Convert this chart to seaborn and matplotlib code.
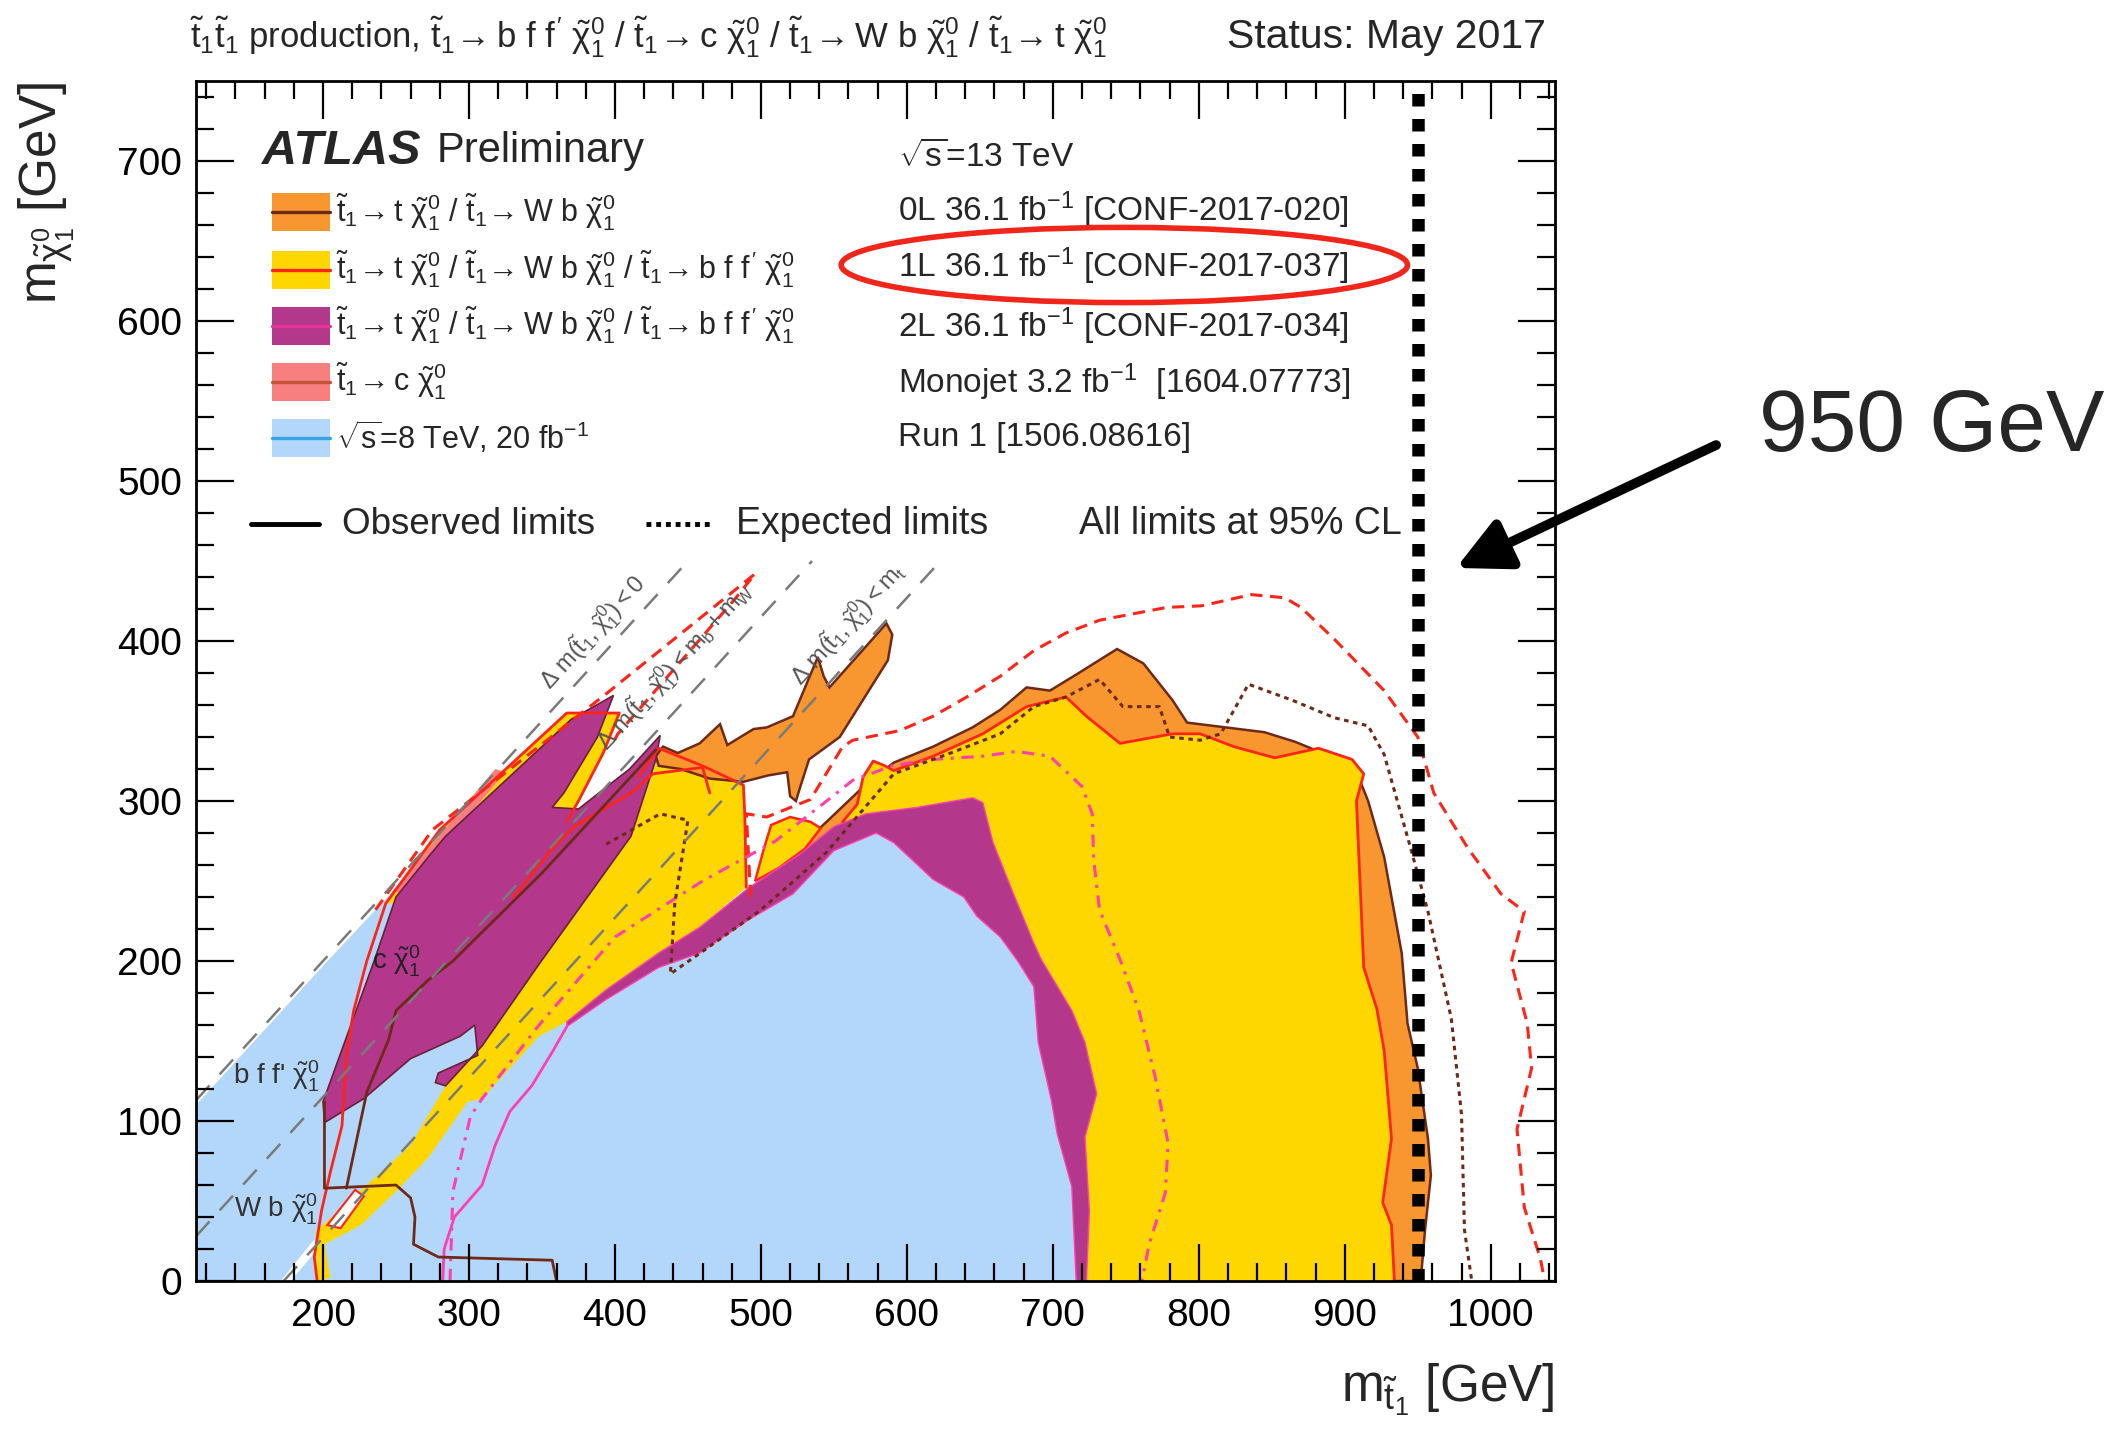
import numpy as np
import pandas as pd
import seaborn as sns
import matplotlib
matplotlib.use("Agg")
import matplotlib.pyplot as plt
from matplotlib.patches import Ellipse, Rectangle
from matplotlib.ticker import MultipleLocator

# ---------------- data (m_stop, m_chi) in GeV ----------------
# Run 1 (8 TeV) region, visible outline
run1_x = [113, 113, 200, 272, 310, 355, 360, 367, 394, 430, 458, 492, 522, 550, 579, 591, 618, 639, 648, 664, 676, 687, 690, 699, 703, 713, 716]
run1_y = [0, 110, 197, 267, 285, 215, 175, 159, 176, 196, 205, 226, 242, 269, 280, 274, 251, 240, 228, 215, 200, 184, 149, 113, 92, 59, 0]

# 0L big region
zl_x = [500, 545, 568, 591, 618, 645, 664, 682, 698, 716, 744, 762, 782, 792, 845, 866, 882, 909, 916, 927, 939, 943, 950, 957, 959, 955, 952, 723, 700, 652, 607, 572, 550, 527, 500]
zl_y = [249, 287, 307, 324, 334, 346, 357, 371, 369, 379, 395, 386, 363, 349, 343, 337, 331, 316, 300, 265, 205, 161, 133, 89, 66, 32, 0, 0, 150, 292, 290, 287, 279, 262, 244]
# 0L spikes near the top-mass diagonal
zs_x = [428, 433, 443, 458, 472, 477, 495, 504, 522, 539, 543, 547, 586, 590, 587, 554, 533, 527, 524, 520, 518, 505, 488, 465, 445, 430]
zs_y = [328, 334, 330, 336, 348, 335, 345, 346, 353, 390, 378, 371, 411, 404, 388, 340, 326, 309, 300, 303, 318, 316, 312, 314, 320, 322]

# 1L regions
ola_x = [196, 195, 230, 260, 284, 309, 348, 411, 428, 430, 460, 488, 489, 490, 458, 430, 394, 367, 348, 309, 299, 272, 250, 226, 201, 205]
ola_y = [0, 31, 60, 85, 122, 147, 198, 278, 326, 333, 322, 310, 290, 246, 221, 205, 182, 162, 153, 114, 112, 77, 56, 35, 23, 2]
olb_x = [556, 566, 570, 577, 585, 591, 618, 652, 682, 709, 723, 746, 782, 801, 824, 852, 882, 905, 913, 908, 913, 922, 927, 932, 926, 932, 934,
         723, 725, 722, 730, 722, 713, 692, 687, 673, 659, 652, 645, 607, 572]
olb_y = [287, 298, 315, 325, 322, 319, 328, 342, 359, 365, 353, 336, 342, 342, 334, 327, 333, 326, 317, 300, 196, 170, 144, 89, 49, 35, 0,
         0, 44, 90, 117, 149, 169, 201, 211, 242, 274, 299, 302, 296, 292]
olc_x = [243, 280, 367, 403, 392, 375, 367, 356, 300, 255]
olc_y = [236, 282, 355, 355, 330, 300, 287, 293, 260, 236]
old_x = [496, 502, 507, 520, 534, 541, 530, 512]
old_y = [250, 270, 285, 290, 287, 283, 270, 258]

# 2L regions
tla_x = [201, 200, 235, 250, 273, 284, 370, 399, 388, 365, 357, 375, 410, 431, 428, 411, 348, 309, 284, 277, 279, 306, 304, 294, 260, 228]
tla_y = [99, 112, 200, 240, 266, 278, 351, 366, 340, 305, 296, 295, 320, 341, 326, 278, 198, 147, 122, 124, 130, 141, 160, 153, 139, 114]
tlb_x = [367, 394, 430, 458, 492, 522, 550, 579, 591, 618, 639, 648, 664, 676, 687, 690, 699, 703, 713, 716,
         723, 725, 722, 730, 722, 713, 692, 687, 673, 659, 652, 645, 607, 572, 550, 527, 492, 458, 430, 394, 367]
tlb_y = [159, 176, 196, 205, 226, 242, 269, 280, 274, 251, 240, 228, 215, 200, 184, 149, 113, 92, 59, 0,
         0, 44, 90, 117, 149, 169, 201, 211, 242, 274, 299, 302, 296, 292, 284, 267, 246, 221, 205, 182, 162]

# monojet (stop -> c chi) sliver
mj_x = [247, 318, 325, 255]
mj_y = [243, 320, 318, 243]

# white gaps
gap1_x = [171, 178, 198, 194]
gap1_y = [0, 0, 22, 26]
gap2_x = [203, 212, 228, 222]
gap2_y = [35, 33, 53, 57]

# observed / expected contour lines
obs1l_a_x = [556, 566, 570, 577, 585, 591, 618, 652, 682, 709, 723, 746, 782, 801, 824, 852, 882, 905, 913, 908, 913, 922, 927, 932, 926, 932, 934]
obs1l_a_y = [287, 298, 315, 325, 322, 319, 328, 342, 359, 365, 353, 336, 342, 342, 334, 327, 333, 326, 317, 300, 196, 170, 144, 89, 49, 35, 0]
obs1l_b_x = [416, 430, 460, 488, 489, 490]
obs1l_b_y = [315, 333, 322, 310, 290, 246]
obs1l_c_x = [196, 194, 199, 205, 213, 216, 221, 230, 243, 280, 367, 403, 392, 375, 367]
obs1l_c_y = [0, 15, 44, 68, 97, 141, 169, 200, 236, 282, 355, 355, 330, 300, 287]
obs1l_d_x = [330, 336, 355, 372, 411, 426, 460, 465]
obs1l_d_y = [240, 246, 268, 284, 305, 317, 321, 305]
exp1l_a_x = [493, 490, 504, 534, 556, 563, 595, 618, 641, 664, 687, 709, 732, 755, 778, 802, 836, 859, 870, 893, 927, 950, 961, 984, 1007, 1023, 1014, 1025, 1028, 1018, 1023, 1034, 1037]
exp1l_a_y = [240, 292, 290, 301, 334, 338, 344, 353, 365, 378, 394, 405, 413, 417, 421, 422, 429, 427, 421, 401, 369, 340, 305, 271, 242, 231, 199, 161, 133, 95, 46, 14, 0]
exp1l_b_x = [236, 275, 394, 496, 482, 402, 398]
exp1l_b_y = [232, 282, 367, 442, 426, 342, 335]

obs2l_x = [282, 283, 290, 309, 318, 328, 343, 357, 367]
obs2l_y = [0, 20, 40, 60, 85, 106, 122, 143, 159]
exp2l_x = [287, 289, 301, 309, 348, 400, 460, 510, 545, 563, 590, 618, 652, 675, 698, 720, 727, 728, 732, 746, 759, 770, 779, 777, 766, 761]
exp2l_y = [0, 56, 103, 114, 160, 215, 250, 275, 300, 313, 322, 326, 328, 331, 328, 309, 292, 263, 232, 201, 169, 128, 86, 55, 23, 0]

obs0l_a_x = [201, 201, 250, 260, 263, 262, 279, 357, 360]
obs0l_a_y = [112, 58, 60, 52, 40, 23, 15, 13, 0]
obs0l_b_x = [216, 230, 245, 250, 272, 289, 350, 428]
obs0l_b_y = [58, 118, 151, 169, 188, 200, 255, 332]
exp0l_x = [394, 431, 450, 441, 438, 460, 500, 545, 591, 630, 664, 687, 709, 732, 748, 773, 780, 801, 815, 834, 864, 893, 916, 927, 945, 957, 973, 980, 982, 987]
exp0l_y = [273, 292, 288, 236, 192, 206, 232, 268, 317, 330, 342, 359, 365, 376, 359, 359, 340, 338, 342, 373, 363, 352, 347, 329, 271, 231, 164, 104, 32, 0]

# kinematic boundaries: m_chi = m_stop - offset
kin_offsets = [0, 85, 173]
kin_top = 450

limit_line = 950

legend_labels = [
    r"$\tilde{t}_1\!\rightarrow t\ \tilde{\chi}^0_1$ / $\tilde{t}_1\!\rightarrow W\ b\ \tilde{\chi}^0_1$",
    r"$\tilde{t}_1\!\rightarrow t\ \tilde{\chi}^0_1$ / $\tilde{t}_1\!\rightarrow W\ b\ \tilde{\chi}^0_1$ / $\tilde{t}_1\!\rightarrow b\ f\ f'\ \tilde{\chi}^0_1$",
    r"$\tilde{t}_1\!\rightarrow t\ \tilde{\chi}^0_1$ / $\tilde{t}_1\!\rightarrow W\ b\ \tilde{\chi}^0_1$ / $\tilde{t}_1\!\rightarrow b\ f\ f'\ \tilde{\chi}^0_1$",
    r"$\tilde{t}_1\!\rightarrow c\ \tilde{\chi}^0_1$",
    r"$\sqrt{s}$=8 TeV, 20 fb$^{-1}$",
]
ref_labels = [
    r"$\sqrt{s}$=13 TeV",
    r"0L 36.1 fb$^{-1}$ [CONF-2017-020]",
    r"1L 36.1 fb$^{-1}$ [CONF-2017-037]",
    r"2L 36.1 fb$^{-1}$ [CONF-2017-034]",
    r"Monojet 3.2 fb$^{-1}$  [1604.07773]",
    r"Run 1 [1506.08616]",
]

# ---------------- style ----------------
sns.set_style("ticks")
plt.rcParams["font.family"] = ["Liberation Sans", "DejaVu Sans"]
plt.rcParams["mathtext.fontset"] = "custom"
plt.rcParams["mathtext.rm"] = "Liberation Sans"
plt.rcParams["mathtext.it"] = "Liberation Sans"
plt.rcParams["mathtext.bf"] = "Liberation Sans:bold"

C_BLUE = "#b2d7fa"
C_ORANGE = "#f8962f"
C_YELLOW = "#fed700"
C_PURPLE = "#b3388c"
C_SALMON = "#f77f7f"
C_BROWN = "#6e2a17"
C_RED = "#ff2418"
C_MAGENTA = "#ff3fae"

fig = plt.figure(figsize=(21.26, 14.31), dpi=100)
ax = fig.add_axes([0.0922, 0.1048, 0.6392, 0.8386])


def poly(xs, ys, fc, z, ec="none", lw=0.0):
    ax.fill(xs, ys, facecolor=fc, edgecolor=ec, linewidth=lw, zorder=z)


def line(xs, ys, color, lw, ls="-", z=5.0):
    sns.lineplot(x=xs, y=ys, sort=False, estimator=None, color=color,
                 linewidth=lw, linestyle=ls, ax=ax, zorder=z, legend=False)


poly(run1_x, run1_y, C_BLUE, 1)
poly(gap1_x, gap1_y, "white", 1.2)
poly(zl_x, zl_y, C_ORANGE, 2, ec=C_BROWN, lw=1.8)
poly(ola_x, ola_y, C_YELLOW, 3)
poly(olb_x, olb_y, C_YELLOW, 3)
poly(old_x, old_y, C_YELLOW, 3.1, ec=C_RED, lw=1.8)
poly(gap2_x, gap2_y, "white", 3.2, ec=C_RED, lw=1.5)
poly(zs_x, zs_y, C_ORANGE, 3.5, ec=C_BROWN, lw=1.8)
poly(olc_x, olc_y, C_YELLOW, 3.8)
poly(mj_x, mj_y, C_SALMON, 3.9)
poly(tla_x, tla_y, C_PURPLE, 4, ec="#6a2036", lw=1.2)
poly(tlb_x, tlb_y, C_PURPLE, 4, ec=C_MAGENTA, lw=1.0)

# contour lines
line(obs1l_a_x, obs1l_a_y, C_RED, 2.0)
line(obs1l_b_x, obs1l_b_y, C_RED, 2.0)
line(obs1l_c_x, obs1l_c_y, C_RED, 2.0)
line(obs1l_d_x, obs1l_d_y, C_RED, 2.0)
line(exp1l_a_x, exp1l_a_y, C_RED, 2.2, ls=(0, (4, 2.5)))
line(exp1l_b_x, exp1l_b_y, C_RED, 2.2, ls=(0, (4, 2.5)))
line(obs2l_x, obs2l_y, C_MAGENTA, 2.0)
line(exp2l_x, exp2l_y, C_MAGENTA, 2.2, ls=(0, (4, 2.5, 1, 2.5)))
line(obs0l_a_x, obs0l_a_y, C_BROWN, 2.0)
line(obs0l_b_x, obs0l_b_y, C_BROWN, 2.0)
line(exp0l_x, exp0l_y, C_BROWN, 2.2, ls=(0, (1.5, 1.5)))

# kinematic lines
for off in kin_offsets:
    x0 = max(113, off)
    line([x0, kin_top + off], [x0 - off, kin_top], "#7a7a7a", 1.8, ls=(0, (8, 6)), z=5.5)

# 950 GeV line
line([limit_line, limit_line], [0, 750], "black", 9.0, ls=(0, (1, 1)), z=7)

# kinematic labels
kin_txt = [r"$\Delta\ m(\tilde{t}_1,\tilde{\chi}^0_1) < 0$",
           r"$\Delta\ m(\tilde{t}_1,\tilde{\chi}^0_1) < m_b + m_W$",
           r"$\Delta\ m(\tilde{t}_1,\tilde{\chi}^0_1) < m_t$"]
kin_pos = [(385, 405), (441, 384), (560, 410)]
for t, (px, py) in zip(kin_txt, kin_pos):
    ax.text(px, py, t, rotation=45, transform_rotates_text=True, rotation_mode="anchor",
            ha="center", va="center", fontsize=17, color="#555555", zorder=6)

ax.text(168, 128, r"b f f' $\tilde{\chi}^0_1$", fontsize=20, color="#333333", ha="center", va="center", zorder=6)
ax.text(168, 45, r"W b $\tilde{\chi}^0_1$", fontsize=20, color="#333333", ha="center", va="center", zorder=6)
ax.text(250, 200, r"c $\tilde{\chi}^0_1$", fontsize=20, color="#222222", ha="center", va="center", zorder=6)

# ---------------- legend ----------------
ax.text(158, 706, "ATLAS", fontsize=35, fontweight="bold", fontstyle="italic", ha="left", va="center")
ax.text(278, 706, "Preliminary", fontsize=30, ha="left", va="center")

box_fc = [C_ORANGE, C_YELLOW, C_PURPLE, C_SALMON, C_BLUE]
box_lc = [C_BROWN, C_RED, "#e8359d", "#c4543a", "#3aa3e6"]
box_y = [668, 632, 597, 562, 527]
for fc, lc, yy, lab in zip(box_fc, box_lc, box_y, legend_labels):
    ax.add_patch(Rectangle((165, yy - 12), 40, 24, facecolor=fc, edgecolor="none", zorder=6))
    line([165, 205], [yy, yy], lc, 2.4, z=6.5)
    ax.text(209, yy, lab, fontsize=22, ha="left", va="center", zorder=6)

ref_y = [702, 669, 634, 597, 562, 527]
for yy, lab in zip(ref_y, ref_labels):
    ax.text(594, yy, lab, fontsize=24, ha="left", va="center", zorder=6)

ax.add_patch(Ellipse((749, 635), 388, 47, facecolor="none", edgecolor="#f0261b", linewidth=4.0, zorder=7))

line([151, 197], [473, 473], "black", 3.5, z=6)
ax.text(213, 473, "Observed limits", fontsize=26.5, ha="left", va="center")
line([421, 466], [473, 473], "black", 3.5, ls=(0, (1, 1)), z=6)
ax.text(483, 473, "Expected limits", fontsize=27, ha="left", va="center")
ax.text(718, 473, "All limits at 95% CL", fontsize=27, ha="left", va="center")

# ---------------- axes ----------------
ax.set_xlim(113, 1044)
ax.set_ylim(0, 750)
ax.set_xlabel("")
ax.set_ylabel("")
ax.xaxis.set_major_locator(MultipleLocator(100))
ax.xaxis.set_minor_locator(MultipleLocator(20))
ax.yaxis.set_major_locator(MultipleLocator(100))
ax.yaxis.set_minor_locator(MultipleLocator(20))
ax.tick_params(which="major", direction="in", length=27, width=1.6, top=True, right=True,
               labelsize=28, color="black", labelcolor="black")
ax.tick_params(which="minor", direction="in", length=13, width=1.6, top=True, right=True, color="black")
ax.tick_params(axis="x", which="major", pad=12)
ax.tick_params(axis="y", which="major", pad=10)
for sp in ax.spines.values():
    sp.set_linewidth(2.0)
    sp.set_color("black")
    sp.set_zorder(10)
ax.xaxis.set_zorder(10)
ax.yaxis.set_zorder(10)

fig.text(0.022, 0.943, r"$m_{\tilde{\chi}^0_1}$ [GeV]", rotation=90, fontsize=37, ha="center", va="top")
fig.text(0.7314, 0.029, r"$m_{\tilde{t}_1}$ [GeV]", fontsize=37, ha="right", va="center")

fig.text(0.0895, 0.974,
         r"$\tilde{t}_1\tilde{t}_1$ production, $\tilde{t}_1\!\rightarrow b\ f\ f'\ \tilde{\chi}^0_1$ / "
         r"$\tilde{t}_1\!\rightarrow c\ \tilde{\chi}^0_1$ / $\tilde{t}_1\!\rightarrow W\ b\ \tilde{\chi}^0_1$ / "
         r"$\tilde{t}_1\!\rightarrow t\ \tilde{\chi}^0_1$",
         fontsize=25, ha="left", va="center")
fig.text(0.727, 0.974, "Status: May 2017", fontsize=29.5, ha="right", va="center")

# annotation outside the frame
fig.text(0.9088, 0.7009, "950 GeV", fontsize=63, ha="center", va="center")
ax.annotate("", xy=(0.6849, 0.6031), xycoords="figure fraction",
            xytext=(0.8072, 0.6890), textcoords="figure fraction",
            arrowprops=dict(arrowstyle="-|>", lw=7, color="black", mutation_scale=80,
                            shrinkA=0, shrinkB=0),
            annotation_clip=False, zorder=20)

fig.savefig("out.png", dpi=100)
